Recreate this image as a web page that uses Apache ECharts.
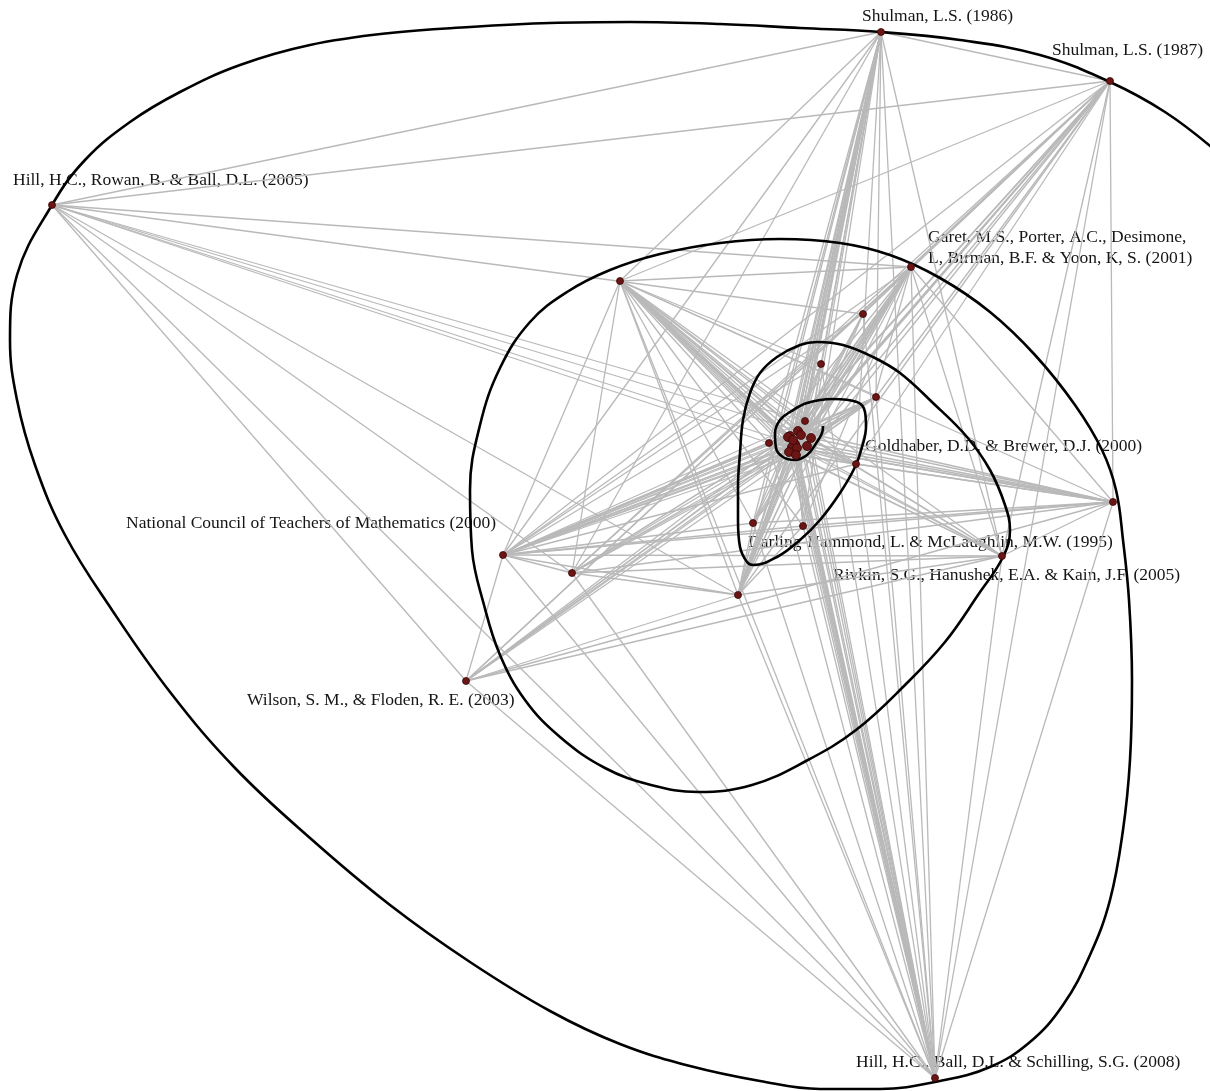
<!DOCTYPE html>
<html>
<head>
<meta charset="utf-8">
<script src="https://cdn.jsdelivr.net/npm/echarts@6/dist/echarts.min.js"></script>
<style>html,body{margin:0;padding:0;background:#fff}#c{width:1210px;height:1091px}</style>
</head>
<body>
<div id="c"></div>
<script>
// Node positions (x right, y down)
const nodeX = [881,1110,52,911,620,863,821,876,805,769,856,1113,753,803,503,572,738,1002,466,935,
               790,798,801,811,807,795,792,797,789,796,788,793];
const nodeY = [32,81,205,267,281,314,364,397,421,443,464,502,523,526,555,573,595,556,681,1078,
               436,431,435,438,446,444,447,448,452,455,437,440];
const coreIds = [20,21,22,23,24,25,26,27,28,29,30,31];

// adjacency: node -> linked nodes ('core' = every core node)
const adjacency = [
  [0, [1,2,4,6,7,8,9,10,12,13,14,15,16,17,19,'core']],
  [1, [2,3,4,5,7,10,11,12,14,15,16,17,18,19,20,22,24,26,28,30]],
  [2, [3,5,8,9,10,15,16,18,19,21]],
  [3, [4,5,9,10,11,12,13,14,15,16,17,18,19,'core']],
  [4, [7,8,9,10,11,12,13,14,15,16,17,19,'core']],
  [5, [14,19,21,23,25,27]],
  [6, [4,14,19,20,22,24,26]],
  [7, [14,19,'core']],
  [8, [14,19,22,25]],
  [9, [14,19,17,11,21,24,28]],
  [10, [11,14,19,20,23,26,29]],
  [11, [12,13,14,15,17,18,19,21,23,25,27,29,31]],
  [12, [14,16,19,20,24,28]],
  [13, [14,16,19,22,25,29]],
  [14, [15,16,17,18,19,'core']],
  [15, [16,17,19,20,22,24,26,28,30]],
  [16, [17,18,19,'core']],
  [17, [18,19,21,23,25,27,29]],
  [18, [19,20,22,24,26,28,31]],
  [19, ['core']]
];

// Curve points, from the inner end outwards
const curveX = [823,822,815,807,795,783,776,775,780,790,807,833,857,865,866,862,855,840,820,800,777,753,747,740,738,738,740,743,750,760,777,800,817,843,873,900,933,967,990,1005,1010,1003,978,945,906,856,806,752,698,651,605,560,525,500,484,472,470,480,500,530,567,610,660,720,780,840,890,940,990,1035,1075,1102,1116,1123,1129,1132,1130,1123,1110,1090,1063,1030,990,940,880,820,760,690,620,550,470,390,310,235,170,112,65,35,17,10,17,52,85,130,180,240,310,390,470,550,630,720,800,881,960,1040,1110,1165,1215];
const curveY = [426,433,445,455,460,457,448,433,420,412,403,399,402,412,427,447,467,493,520,540,557,565,562,547,520,487,453,420,393,373,357,345,342,345,357,373,403,437,470,505,530,557,595,642,684,730,761,785,792,785,768,737,700,655,605,550,490,425,368,322,292,270,254,243,239,243,255,278,312,355,405,450,490,540,600,680,760,830,900,955,1005,1042,1067,1081,1089,1089,1081,1066,1044,1011,962,905,838,768,692,610,535,465,400,340,275,205,160,122,92,65,45,33,27,23,22,24,28,32,40,55,82,112,150];

// Labels: text, left x, middle y
const labelText = ['Shulman, L.S. (1986)','Shulman, L.S. (1987)','Hill, H.C., Rowan, B. & Ball, D.L. (2005)',
  'Garet, M.S., Porter, A.C., Desimone,\nL, Birman, B.F. & Yoon, K, S. (2001)','Goldhaber, D.D. & Brewer, D.J. (2000)',
  'Darling-Hammond, L. & McLaughlin, M.W. (1995)','Rivkin, S.G., Hanushek, E.A. & Kain, J.F. (2005)',
  'National Council of Teachers of Mathematics (2000)','Wilson, S. M., & Floden, R. E. (2003)',
  'Hill, H.C., Ball, D.L. & Schilling, S.G. (2008)'];
const labelX = [862,1052,13,928,865,748,833,126,247,856];
const labelY = [16,50,180,248,446,542,575,523,700,1062];

const nodes = nodeX.map((x,i)=>[x,nodeY[i]]);
const seen = {};
const links = [];
adjacency.forEach(([s,ts])=>{
  const list = [];
  ts.forEach(t=>{ if(t==='core') list.push(...coreIds); else list.push(t); });
  list.forEach(t=>{
    if (t===s) return;
    const k = Math.min(s,t)+'-'+Math.max(s,t);
    if (seen[k]) return; seen[k]=1;
    links.push({source:s,target:t});
  });
});
const isCore = new Set(coreIds);
const chart = echarts.init(document.getElementById('c'));
chart.setOption({
  animation:false,
  backgroundColor:'#fff',
  grid:{left:0,right:0,top:0,bottom:0},
  xAxis:{type:'value',min:0,max:1210,show:false},
  yAxis:{type:'value',min:0,max:1091,inverse:true,show:false},
  series:[
    {type:'scatter',z:1,symbolSize:0,silent:true,
     data:labelText.map((t,i)=>({name:t,value:[labelX[i],labelY[i]]})),
     itemStyle:{opacity:1},
     label:{show:true,position:'right',distance:0,formatter:'{b}',color:'#151515',opacity:1,
            fontFamily:'Liberation Serif',fontSize:17.5,lineHeight:21}},
    {type:'graph',coordinateSystem:'cartesian2d',z:2,silent:true,symbolSize:0,
     data:nodes,links:links,
     lineStyle:{color:'#b9b9b9',width:1.3,opacity:1,curveness:0}},
    {type:'line',z:3,silent:true,symbol:'none',smooth:0.4,
     data:curveX.map((x,i)=>[x,curveY[i]]),
     lineStyle:{color:'#000',width:2.6}},
    {type:'scatter',z:4,silent:true,
     data:nodes.map((p,i)=>({value:p,symbolSize:isCore.has(i)?9:7})),
     itemStyle:{color:'#6b1515',borderColor:'#3a0808',borderWidth:0.8,opacity:1}}
  ]
});
</script>
</body>
</html>
